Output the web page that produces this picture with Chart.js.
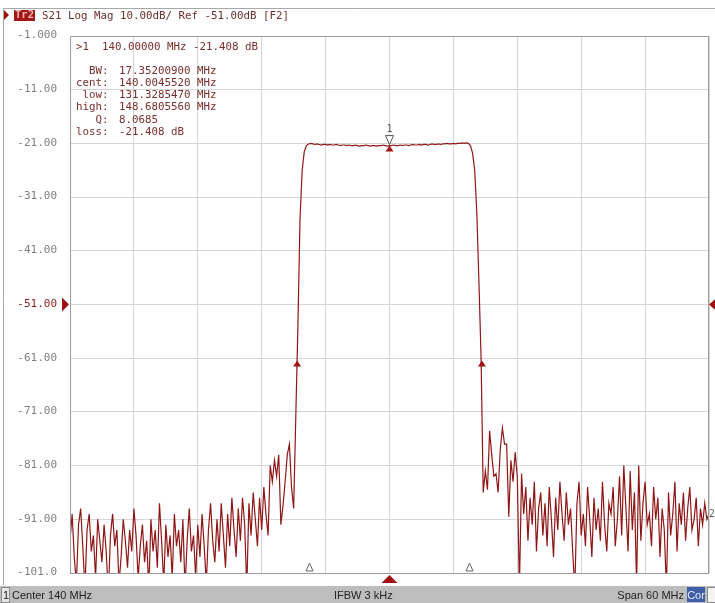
<!DOCTYPE html>
<html>
<head>
<meta charset="utf-8">
<script src="https://cdn.jsdelivr.net/npm/chart.js@4.4.1/dist/chart.umd.min.js"></script>
<style>
  html, body { margin: 0; padding: 0; background: #fff; overflow: hidden; }
</style>
</head>
<body>
<canvas id="s21Chart" width="715" height="603"></canvas>
<script>
// Sweep: 301 points, 110 - 170 MHz (center 140, span 60)
const startMHz = 110;
const stepMHz = 0.2;

// S21 trace in dB, by sections of the sweep
const noiseLow = [
  -95, -90, -98, -103, -92, -89, -96, -104, -93, -90,
  -97, -94, -102, -91, -95, -99, -92, -97, -105, -94,
  -90, -96, -93, -103, -98, -91, -95, -100, -93, -97,
  -89, -94, -102, -96, -92, -99, -95, -104, -91, -97,
  -93, -100, -88, -95, -103, -92, -98, -94, -102, -90,
  -96, -93, -99, -91, -104, -95, -89, -97, -94, -102,
  -92, -98, -90, -96, -103, -93, -88, -95, -99, -91,
  -97, -88, -94, -100, -90, -96, -87, -93, -98, -89,
  -95, -87, -92, -104, -88, -94, -86, -91, -96, -87,
  -93, -85, -90, -94, -81, -84
];
const skirtLow = [-80, -83, -79, -92, -88.5, -84, -79, -77, -85, -89, -72, -55, -35, -26, -22.5, -21.4];
const passband = [
  -21.1, -21.0, -21.1, -21.2, -21.1, -21.2, -21.3, -21.2, -21.2, -21.3,
  -21.2, -21.3, -21.3, -21.2, -21.3, -21.4, -21.3, -21.3, -21.4, -21.3,
  -21.4, -21.4, -21.3, -21.4, -21.5, -21.4, -21.4, -21.3, -21.4, -21.5,
  -21.4, -21.4, -21.5, -21.4, -21.4, -21.3, -21.4, -21.5, -21.408, -21.4,
  -21.3, -21.4, -21.4, -21.3, -21.4, -21.3, -21.3, -21.4, -21.3, -21.2,
  -21.3, -21.3, -21.2, -21.3, -21.2, -21.2, -21.3, -21.2, -21.1, -21.2,
  -21.2, -21.1, -21.2, -21.1, -21.1, -21.0, -21.1, -21.1, -21.0, -21.1,
  -21.0, -21.0, -20.9, -21.0, -20.9
];
const skirtHigh = [-21.0, -21.4, -22.8, -26, -34, -47, -61, -86];
const noiseHigh = [
  -82, -85.5, -74.5, -79, -83, -82.5, -86, -78, -74, -77,
  -77, -90.5, -80, -84, -78.5, -83, -104, -82.5,
  -90, -85, -95, -87, -92, -84, -97, -89, -86, -94,
  -88, -96, -85, -91, -98, -87, -93, -84, -90, -95,
  -86, -92, -89, -97, -104, -88, -84, -94, -90, -96,
  -85, -91, -98, -87, -93, -89, -95, -84, -92, -97,
  -88, -90, -85, -96, -91, -83, -94, -81, -89, -97,
  -82, -93, -86, -103, -81, -95, -88, -84, -92, -90,
  -96, -85, -91, -87, -98, -89, -93, -104, -86, -94,
  -90, -84, -97, -88, -92, -86, -95, -89, -85, -93,
  -91, -87, -96, -89, -92, -88, -91, -90
];

// Axis ticks
const xTicks = [110, 116, 122, 128, 134, 140, 146, 152, 158, 164, 170];
const yTicks = [-1, -11, -21, -31, -41, -51, -61, -71, -81, -91, -101];
const yTickLabels = ['-1.000', '-11.00', '-21.00', '-31.00', '-41.00', '-51.00', '-61.00', '-71.00', '-81.00', '-91.00', '-101.0'];
const refLevel = -51;

// Markers
const markerFreq = 140.0;
const markerLevel = -21.408;
const bwFreqs = [131.3285470, 148.6805560];
const bwLevel = -61.408;
const stimFreqs = [132.45, 147.45];
const marker2Level = -90;

const markerLines = [
  ['  BW:', '17.35200900 MHz'],
  ['cent:', '140.0045520 MHz'],
  [' low:', '131.3285470 MHz'],
  ['high:', '148.6805560 MHz'],
  ['   Q:', '8.0685'],
  ['loss:', '-21.408 dB']
];

const s21 = [...noiseLow, ...skirtLow, ...passband, ...skirtHigh, ...noiseHigh];
const points = s21.map((v, i) => ({ x: startMHz + i * stepMHz, y: v }));

const traceColor = '#8e1616';
const markColor = '#a01212';
const mono = "'DejaVu Sans Mono', 'Liberation Mono', monospace";

function tri(c, pts, fill, stroke) {
  c.beginPath();
  c.moveTo(pts[0][0], pts[0][1]);
  c.lineTo(pts[1][0], pts[1][1]);
  c.lineTo(pts[2][0], pts[2][1]);
  c.closePath();
  if (fill) { c.fillStyle = fill; c.fill(); }
  if (stroke) { c.strokeStyle = stroke; c.lineWidth = 1; c.stroke(); }
}

const vnaScreen = {
  id: 'vnaScreen',
  beforeDraw(chart) {
    const c = chart.ctx;
    c.save();
    c.fillStyle = '#fff';
    c.fillRect(0, 0, chart.width, chart.height);
    c.restore();
  },
  afterDraw(chart) {
    const c = chart.ctx;
    const xs = chart.scales.x, ys = chart.scales.y;
    const a = chart.chartArea;
    c.save();

    // frame of the plot
    c.strokeStyle = '#9c9c9c';
    c.lineWidth = 1;
    c.strokeRect(Math.round(a.left) + 0.5, Math.round(a.top) + 0.5,
      Math.round(a.right - a.left) - 1, Math.round(a.bottom - a.top));

    // outer window border
    c.strokeStyle = '#a8a8a8';
    c.beginPath();
    c.moveTo(3.5, 585); c.lineTo(3.5, 8.5); c.lineTo(715, 8.5);
    c.stroke();

    // header
    tri(c, [[4, 10], [9, 15], [4, 20]], markColor);
    c.fillStyle = '#a51818';
    c.fillRect(14, 10, 21, 11);
    c.font = 'bold 10.5px ' + mono;
    c.textBaseline = 'middle';
    c.textAlign = 'left';
    c.fillStyle = '#f0b8b8';
    c.fillText('Tr2', 15, 15.5);
    c.font = '10.8px ' + mono;
    c.fillStyle = '#6a3030';
    c.fillText('S21 Log Mag 10.00dB/ Ref -51.00dB [F2]', 42, 16);

    // y tick labels
    c.font = '11px ' + mono;
    c.textAlign = 'right';
    yTicks.forEach((v, i) => {
      c.fillStyle = v === refLevel ? '#8b1c1c' : '#808080';
      c.fillText(yTickLabels[i], 57, ys.getPixelForValue(v) - 0.5);
    });

    // reference level arrows
    const yr = ys.getPixelForValue(refLevel);
    tri(c, [[62, yr - 7], [69, yr], [62, yr + 7]], markColor);
    tri(c, [[709, yr], [717, yr - 7], [717, yr + 7]], markColor);

    // marker readout
    c.textAlign = 'left';
    c.fillStyle = '#7a2e2e';
    c.font = '10.8px ' + mono;
    c.fillText('>1  140.00000 MHz -21.408 dB', 76, 47);
    markerLines.forEach((row, i) => {
      const y = 71 + i * 12.2;
      c.textAlign = 'right';
      c.fillText(row[0], 108.5, y);
      c.textAlign = 'left';
      c.fillText(row[1], 119, y);
    });

    // marker 1
    const mx = xs.getPixelForValue(markerFreq);
    const my = ys.getPixelForValue(markerLevel);
    tri(c, [[mx, my], [mx - 4, my + 6], [mx + 4, my + 6]], markColor);
    tri(c, [[mx - 4, my - 10], [mx + 4, my - 10], [mx, my - 1]], '#fff', '#555');
    c.fillStyle = '#555';
    c.font = '10px ' + mono;
    c.textAlign = 'center';
    c.fillText('1', mx, my - 16);

    // bandwidth markers
    bwFreqs.forEach(f => {
      const bx = xs.getPixelForValue(f), by = ys.getPixelForValue(bwLevel);
      tri(c, [[bx, by], [bx - 4, by + 6], [bx + 4, by + 6]], markColor);
    });

    // stimulus markers on the bottom edge
    stimFreqs.forEach(f => {
      const sx = Math.round(xs.getPixelForValue(f)) + 0.5;
      tri(c, [[sx, a.bottom - 10], [sx - 3.5, a.bottom - 2], [sx + 3.5, a.bottom - 2]], '#fff', '#666');
    });
    tri(c, [[mx, a.bottom + 2], [mx - 8, a.bottom + 10], [mx + 8, a.bottom + 10]], markColor);

    // marker 2 tag at stop
    c.fillStyle = '#666';
    c.font = '10px ' + mono;
    c.textAlign = 'left';
    c.fillText('2', 709, ys.getPixelForValue(marker2Level));

    // status bar
    c.fillStyle = '#bdbdbd';
    c.fillRect(0, 586, 715, 17);
    c.fillStyle = '#e6e6e6';
    c.fillRect(1, 587, 8, 15);
    c.strokeStyle = '#8a8a8a';
    c.strokeRect(1.5, 587.5, 8, 15);
    c.font = "11px 'Liberation Sans', Arial, sans-serif";
    c.fillStyle = '#222';
    c.textAlign = 'left';
    c.fillText('1', 3, 595.5);
    c.fillText('Center 140 MHz', 12, 595.5);
    c.fillText('IFBW 3 kHz', 334, 595.5);
    c.textAlign = 'right';
    c.fillText('Span 60 MHz', 684, 595.5);
    c.fillStyle = '#3f5ea8';
    c.fillRect(687, 587, 18, 15);
    c.fillStyle = '#e4eaff';
    c.textAlign = 'center';
    c.fillText('Cor', 696, 595.5);
    c.fillStyle = '#f4f4f4';
    c.fillRect(707, 587, 8, 15);
    c.strokeStyle = '#8a8a8a';
    c.strokeRect(707.5, 587.5, 8, 15);

    c.restore();
  }
};

const ctx = document.getElementById('s21Chart').getContext('2d');
new Chart(ctx, {
  type: 'line',
  data: {
    datasets: [{
      label: 'S21',
      data: points,
      borderColor: traceColor,
      borderWidth: 1.2,
      pointRadius: 0,
      tension: 0,
      fill: false
    }]
  },
  options: {
    responsive: false,
    animation: false,
    events: [],
    layout: { padding: { left: 70, top: 36, right: 6, bottom: 30 } },
    plugins: {
      legend: { display: false },
      tooltip: { enabled: false }
    },
    scales: {
      x: {
        type: 'linear',
        min: 110,
        max: 170,
        afterBuildTicks: s => { s.ticks = xTicks.map(v => ({ value: v })); },
        ticks: { display: false },
        grid: { color: '#d6d6d6', drawTicks: false },
        border: { display: false }
      },
      y: {
        min: -101,
        max: -1,
        afterBuildTicks: s => { s.ticks = yTicks.map(v => ({ value: v })); },
        ticks: { display: false },
        grid: { color: '#d6d6d6', drawTicks: false },
        border: { display: false }
      }
    }
  },
  plugins: [vnaScreen]
});
</script>
</body>
</html>
